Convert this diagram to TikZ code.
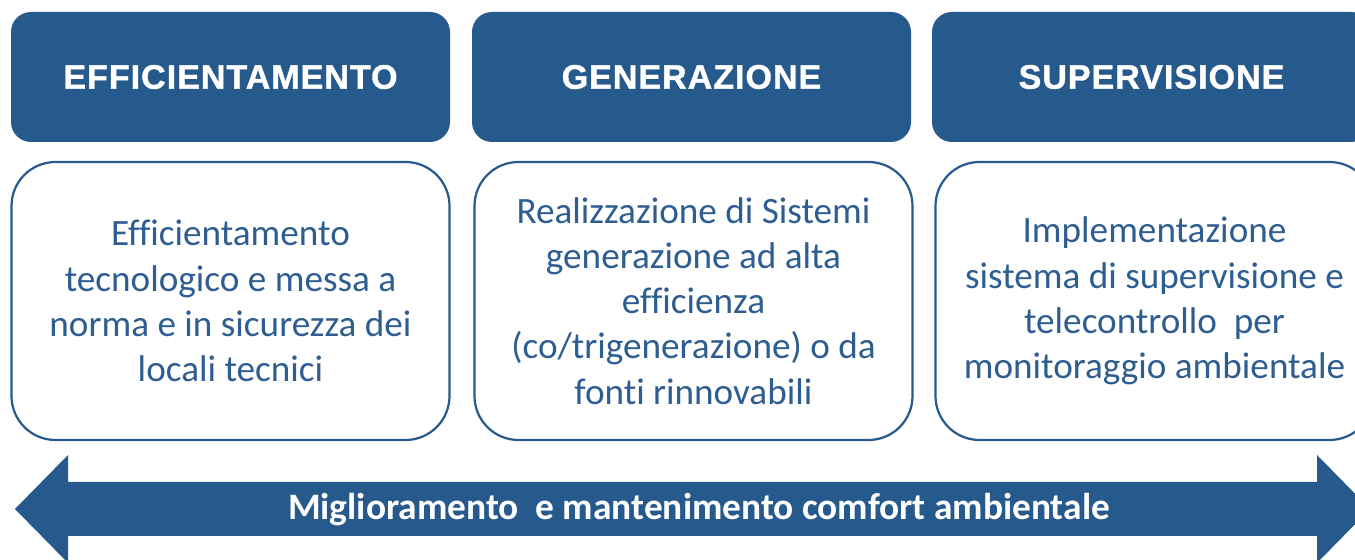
\documentclass[tikz,border=0pt]{standalone}
\usepackage{fontspec}
\setmainfont{Carlito}[Ligatures=NoCommon]
\newfontfamily\headfont{Liberation Sans}[LetterSpace=3,BoldFeatures={FakeBold=1.2}]
\definecolor{dblue}{HTML}{275A8C}
\definecolor{tblue}{HTML}{2E5E91}
\begin{document}
\begin{tikzpicture}[x=0.5pt,y=-0.5pt,
  headbox/.style={fill=dblue, draw=none, rounded corners=10pt, minimum width=219.5pt, minimum height=65pt,
    inner sep=0pt, text=white, font=\headfont\fontsize{17}{20}\bfseries\selectfont},
  bodybox/.style={draw=dblue, line width=1.1pt, fill=white, rounded corners=22pt, minimum width=219pt, minimum height=139pt,
    inner sep=0pt, text=tblue, align=center, font=\fontsize{18.6}{22.6}\selectfont},
  bartext/.style={text=white, font=\fontsize{18.7}{21}\bfseries\selectfont, inner sep=0pt}]
\useasboundingbox (0,0) rectangle (1355,560);
\clip (0,0) rectangle (1355,560);
% headers
\node[headbox] (h1) at (230.5,77) {EFFICIENTAMENTO};
\node[headbox] (h2) at (691.5,77) {GENERAZIONE};
\node[headbox] (h3) at (1151.5,77) {SUPERVISIONE};
% bodies
\node[bodybox] (b1) at (230.5,301) {Efficientamento\\tecnologico e messa a\\norma e in sicurezza dei\\locali tecnici};
\node[bodybox] (b2) at (693.5,301) {Realizzazione di Sistemi\\generazione ad alta\\efficienza\\(co/trigenerazione) o da\\fonti rinnovabili};
\node[bodybox] (b3) at (1154.5,301) {Implementazione\\sistema di supervisione e\\telecontrollo\ \ per\\monitoraggio ambientale};
% double arrow
\fill[dblue] (15,509) -- (68,455) -- (68,482) -- (1317,482) -- (1317,455) -- (1370,509)
  -- (1317,563) -- (1317,536) -- (68,536) -- (68,563) -- cycle;
\node[bartext] (arr) at (699,510) {Miglioramento\ \ e mantenimento comfort ambientale};
\end{tikzpicture}
\end{document}
